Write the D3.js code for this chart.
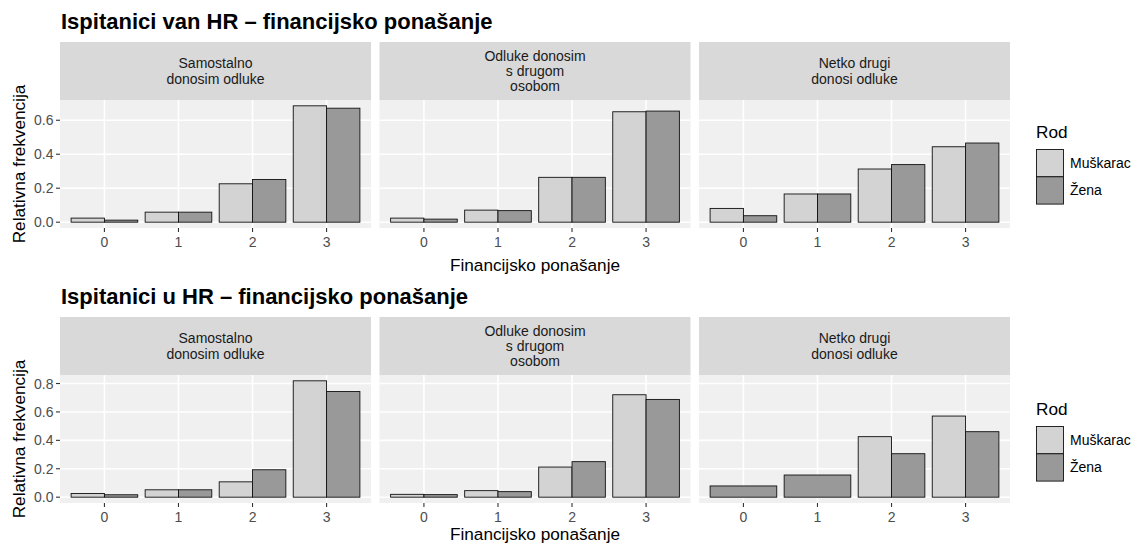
<!DOCTYPE html>
<html>
<head>
<meta charset="utf-8">
<script src="https://cdn.jsdelivr.net/npm/d3@7"></script>
<style>
  html, body { margin: 0; padding: 0; background: #fff; }
  svg { display: block; font-family: "Liberation Sans", Arial, Helvetica, sans-serif; }
</style>
</head>
<body>
<svg id="chart" width="1136" height="544"></svg>
<script>
// ---------- DATA ----------
const categories = ["0", "1", "2", "3"];
const facetLabels = [
  ["Samostalno", "donosim odluke"],
  ["Odluke donosim", "s drugom", "osobom"],
  ["Netko drugi", "donosi odluke"]
];
const seriesNames = ["Muškarac", "Žena"];
const seriesColors = ["#D3D3D3", "#999999"];

const titleTop = "Ispitanici van HR – financijsko ponašanje";
const titleBottom = "Ispitanici u HR – financijsko ponašanje";
const xAxisTitle = "Financijsko ponašanje";
const yAxisTitle = "Relativna frekvencija";
const legendTitle = "Rod";

// Ispitanici van HR : one row per facet, one value per category
const vanMale = [
  [0.024, 0.059, 0.226, 0.685],
  [0.024, 0.071, 0.264, 0.650],
  [0.081, 0.166, 0.313, 0.444]
];
const vanFemale = [
  [0.012, 0.059, 0.251, 0.671],
  [0.018, 0.068, 0.264, 0.654],
  [0.038, 0.166, 0.339, 0.466]
];
// Ispitanici u HR
const uMale = [
  [0.026, 0.052, 0.108, 0.819],
  [0.020, 0.046, 0.212, 0.721],
  [null,  null,  0.426, 0.571]
];
const uFemale = [
  [0.017, 0.052, 0.193, 0.744],
  [0.018, 0.039, 0.250, 0.688],
  [0.079, 0.156, 0.306, 0.461]
];
const yTicksTop = [0, 0.2, 0.4, 0.6];
const yTicksBottom = [0, 0.2, 0.4, 0.6, 0.8];

// ---------- DRAW ----------
const svg = d3.select("#chart");
const panelLefts = [60, 379.5, 699];
const panelWidth = 311;
const smallFont = 14;
const baseFont = 17.2;

function drawChart(cfg) {
  const g = svg.append("g");
  const maxV = d3.max([...cfg.male.flat(), ...cfg.female.flat()].filter(v => v != null));
  const y = d3.scaleLinear()
    .domain([-0.05 * maxV, maxV * 1.05])
    .range([cfg.panelBottom, cfg.panelTop]);

  // title
  g.append("text")
    .attr("x", 61).attr("y", cfg.titleY)
    .attr("font-size", 22).attr("font-weight", "bold").attr("fill", "#000")
    .text(cfg.title);

  facetLabels.forEach((lines, f) => {
    const x0 = panelLefts[f];
    const x = d3.scaleLinear().domain([-0.6, 3.6]).range([x0, x0 + panelWidth]);
    const unit = x(1) - x(0);

    // strip
    g.append("rect")
      .attr("x", x0).attr("y", cfg.stripTop)
      .attr("width", panelWidth).attr("height", cfg.panelTop - cfg.stripTop)
      .attr("fill", "#D9D9D9");
    const cy = (cfg.stripTop + cfg.panelTop) / 2;
    const lh = 15.3;
    lines.forEach((ln, i) => {
      g.append("text")
        .attr("x", x0 + panelWidth / 2)
        .attr("y", cy + 5 + (i - (lines.length - 1) / 2) * lh)
        .attr("text-anchor", "middle").attr("font-size", smallFont).attr("fill", "#1A1A1A")
        .text(ln);
    });

    // panel bg
    g.append("rect")
      .attr("x", x0).attr("y", cfg.panelTop)
      .attr("width", panelWidth).attr("height", cfg.panelBottom - cfg.panelTop)
      .attr("fill", "#F0F0F0");

    // grid
    cfg.yTicks.forEach(t => {
      g.append("line")
        .attr("x1", x0).attr("x2", x0 + panelWidth)
        .attr("y1", y(t)).attr("y2", y(t))
        .attr("stroke", "#fff").attr("stroke-width", 1.6);
    });
    categories.forEach((c, i) => {
      g.append("line")
        .attr("x1", x(i)).attr("x2", x(i))
        .attr("y1", cfg.panelTop).attr("y2", cfg.panelBottom)
        .attr("stroke", "#fff").attr("stroke-width", 1.6);
    });

    // bars
    const barW = 0.45 * unit;
    categories.forEach((c, i) => {
      const m = cfg.male[f][i], w = cfg.female[f][i];
      const bars = [];
      if (m != null && w != null) {
        bars.push({ v: m, x: x(i) - barW, w: barW, s: 0 });
        bars.push({ v: w, x: x(i), w: barW, s: 1 });
      } else if (m != null) {
        bars.push({ v: m, x: x(i) - barW, w: 2 * barW, s: 0 });
      } else if (w != null) {
        bars.push({ v: w, x: x(i) - barW, w: 2 * barW, s: 1 });
      }
      bars.forEach(b => {
        g.append("rect")
          .attr("x", b.x).attr("y", y(b.v))
          .attr("width", b.w).attr("height", y(0) - y(b.v))
          .attr("fill", seriesColors[b.s])
          .attr("stroke", "#111").attr("stroke-width", 0.9);
      });
    });

    // x axis ticks + labels
    categories.forEach((c, i) => {
      g.append("line")
        .attr("x1", x(i)).attr("x2", x(i))
        .attr("y1", cfg.panelBottom).attr("y2", cfg.panelBottom + 4)
        .attr("stroke", "#333").attr("stroke-width", 1.1);
      g.append("text")
        .attr("x", x(i)).attr("y", cfg.panelBottom + 18.5)
        .attr("text-anchor", "middle").attr("font-size", smallFont).attr("fill", "#4D4D4D")
        .text(c);
    });
  });

  // y axis (left panel only)
  cfg.yTicks.forEach(t => {
    g.append("line")
      .attr("x1", panelLefts[0] - 4).attr("x2", panelLefts[0])
      .attr("y1", y(t)).attr("y2", y(t))
      .attr("stroke", "#333").attr("stroke-width", 1.1);
    g.append("text")
      .attr("x", panelLefts[0] - 6.5).attr("y", y(t) + 5)
      .attr("text-anchor", "end").attr("font-size", smallFont).attr("fill", "#4D4D4D")
      .text(d3.format(".1f")(t));
  });

  // axis titles
  g.append("text")
    .attr("x", panelLefts[1] + panelWidth / 2).attr("y", cfg.xTitleY)
    .attr("text-anchor", "middle").attr("font-size", baseFont).attr("fill", "#000")
    .text(xAxisTitle);
  g.append("text")
    .attr("transform", `translate(25,${(cfg.panelTop + cfg.panelBottom) / 2}) rotate(-90)`)
    .attr("text-anchor", "middle").attr("font-size", baseFont).attr("fill", "#000")
    .text(yAxisTitle);

  // legend
  g.append("text")
    .attr("x", 1036).attr("y", cfg.legendY)
    .attr("font-size", baseFont).attr("fill", "#000")
    .text(legendTitle);
  seriesNames.forEach((s, i) => {
    const ky = cfg.legendY + 11.5 + i * 27.3;
    g.append("rect")
      .attr("x", 1036.5).attr("y", ky)
      .attr("width", 27).attr("height", 27.3)
      .attr("fill", seriesColors[i])
      .attr("stroke", "#111").attr("stroke-width", 0.9);
    g.append("text")
      .attr("x", 1070).attr("y", ky + 13.65 + 5)
      .attr("font-size", smallFont).attr("fill", "#000")
      .text(s);
  });
}

drawChart({
  title: titleTop, titleY: 29,
  stripTop: 42, panelTop: 100, panelBottom: 228,
  male: vanMale, female: vanFemale, yTicks: yTicksTop,
  xTitleY: 270.5, legendY: 138
});
drawChart({
  title: titleBottom, titleY: 304,
  stripTop: 317, panelTop: 375, panelBottom: 503,
  male: uMale, female: uFemale, yTicks: yTicksBottom,
  xTitleY: 539.5, legendY: 415
});
</script>
</body>
</html>
